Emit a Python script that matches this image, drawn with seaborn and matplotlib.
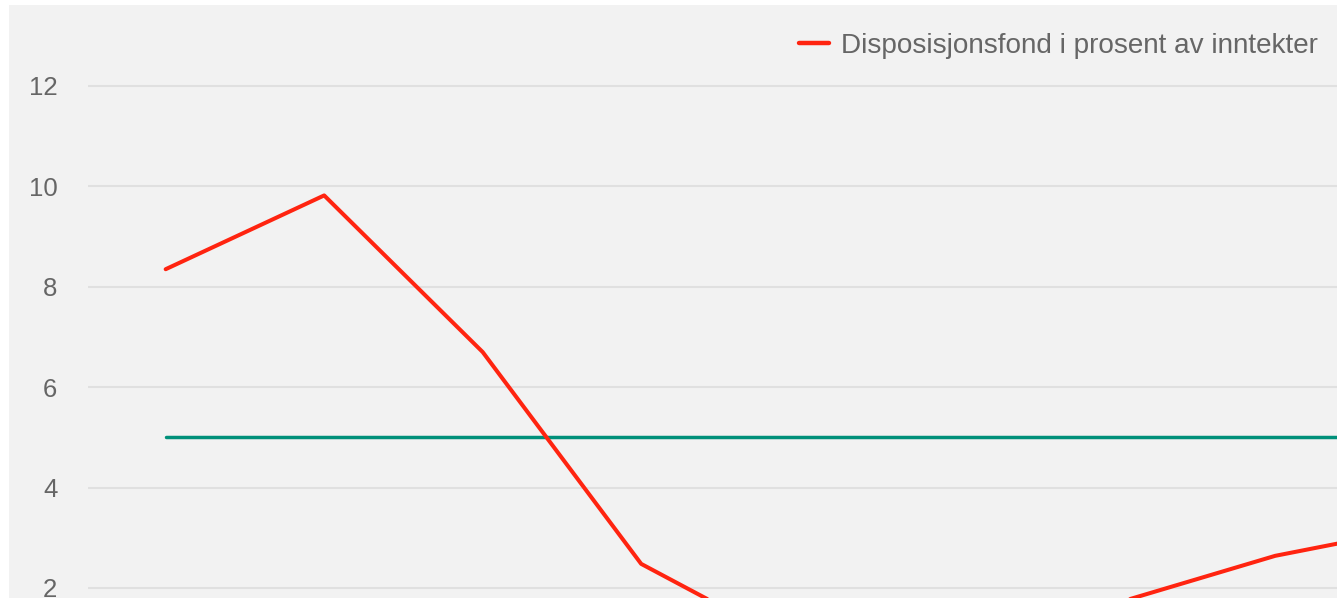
import numpy as np
import pandas as pd
import seaborn as sns
import matplotlib.pyplot as plt
from matplotlib.patches import Rectangle

# data (last points partly outside the visible crop)
aar = ["2015", "2016", "2017", "2018", "2019", "2020", "2021", "2022", "2023"]
disposisjonsfond = [8.35, 9.82, 6.70, 2.48, 0.80, 0.90, 1.70, 2.64, 3.26]
terskel = [5.0, 5.0, 5.0, 5.0, 5.0, 5.0, 5.0, 5.0, 5.0]
y_ticks = [2, 4, 6, 8, 10, 12]

df = pd.DataFrame({"aar": aar, "fond": disposisjonsfond, "terskel": terskel})
df["pos"] = np.arange(len(df))

sns.set_theme(style="white")
plt.rcParams['font.family'] = ['Liberation Sans', 'DejaVu Sans']

W, H = 1337, 598
fig = plt.figure(figsize=(W / 100, H / 100), dpi=100, facecolor="white")
fig.patches.append(Rectangle((9 / W, -0.01), 1 - 9 / W + 0.01, 593 / H + 0.01,
                             transform=fig.transFigure, facecolor="#F2F2F2",
                             edgecolor="none", zorder=-5))

ax = fig.add_axes([88 / W, 0, 1 - 88 / W, 593 / H])
ax.patch.set_alpha(0)

sns.lineplot(data=df, x="pos", y="terskel", ax=ax, color="#00907A", linewidth=2.5,
             label="_nolegend_")
sns.lineplot(data=df, x="pos", y="fond", ax=ax, color="#FF2410", linewidth=2.9,
             label="Disposisjonsfond i prosent av inntekter")

ax.set_xlim(-0.49, 7.39)
ax.set_ylim(1.8, 2 + 583 / 50.2)
ax.set_yticks(y_ticks)
ax.set_xticks([])
ax.set_xlabel("")
ax.set_ylabel("")
ax.yaxis.grid(True, color="#E0E0E0", linewidth=1.5)
ax.set_axisbelow(True)
for s in ax.spines.values():
    s.set_visible(False)
ax.tick_params(axis="y", length=0, pad=22, labelsize=18.5, labelcolor="#666666")

leg = ax.legend(loc="center right", bbox_to_anchor=(1318 / W, 1 - 46 / H),
                bbox_transform=fig.transFigure, frameon=False,
                fontsize=20.1, labelcolor="#666666", handlelength=1.07,
                handletextpad=0.43, borderpad=0, borderaxespad=0)
for h in leg.get_lines():
    h.set_linewidth(3.2)

fig.savefig("out.png", dpi=100)
